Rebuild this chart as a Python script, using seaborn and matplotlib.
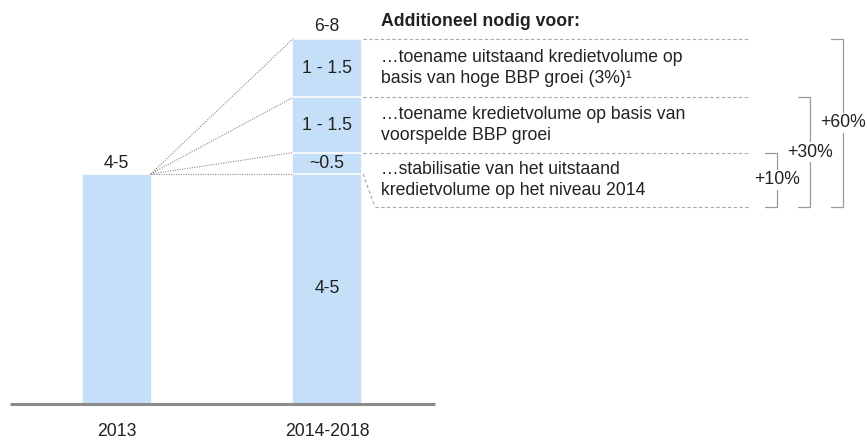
import numpy as np
import pandas as pd
import matplotlib
matplotlib.use("Agg")
import matplotlib.pyplot as plt
import seaborn as sns

# data
categories = ["2013", "2014-2018"]
base = [4.5, 4.5]          # 4-5
stabilisation = [0, 0.42]  # ~0.5
forecast_gdp = [0, 1.08]   # 1 - 1.5
high_gdp = [0, 1.15]       # 1 - 1.5
total_labels = ["4-5", "6-8"]
segment_labels = ["4-5", "~0.5", "1 - 1.5", "1 - 1.5"]
notes = ["\u2026toename uitstaand kredietvolume op\nbasis van hoge BBP groei (3%)\u00b9",
         "\u2026toename kredietvolume op basis van\nvoorspelde BBP groei",
         "\u2026stabilisatie van het uitstaand\nkredietvolume op het niveau 2014"]
heading = "Additioneel nodig voor:"
bracket_labels = ["+10%", "+30%", "+60%"]

sns.set_style("white")
plt.rcParams['font.family'] = ['Liberation Sans', 'DejaVu Sans']
txt = "#222222"
blue = "#c6dff8"
fs = 12.7

df = pd.DataFrame({"cat": categories, "base": base, "stab": stabilisation,
                   "fc": forecast_gdp, "high": high_gdp})
df["c1"] = df["base"]
df["c2"] = df["c1"] + df["stab"]
df["c3"] = df["c2"] + df["fc"]
df["c4"] = df["c3"] + df["high"]

fig = plt.figure(figsize=(8.67, 4.41), dpi=100)
ax = fig.add_axes([0, 37.3 / 441, 1, 403.7 / 441])

bw = 0.331
for col in ["c4", "c3", "c2", "c1"]:
    sns.barplot(data=df, x="cat", y=col, color=blue, edgecolor="white",
                linewidth=1.2, width=bw, errorbar=None, saturation=1, ax=ax)

ax.set_xlim(-0.555, 3.568)
ax.set_ylim(0, 7.909)
sns.despine(ax=ax, left=True, bottom=True)
ax.set_yticks([])
ax.set_xlabel("")
ax.set_ylabel("")
ax.tick_params(axis="x", length=0, pad=14, labelsize=fs, labelcolor=txt)

# baseline
ax.hlines(0, -0.507, 1.514, color="#8c8c8c", lw=2.2, clip_on=False)

half = 0.1617
levels = [df["c1"][1], df["c2"][1], df["c3"][1], df["c4"][1]]

# totals above bars
ax.text(0, df["c4"][0] + 0.215, total_labels[0], ha="center", va="center", fontsize=fs, color=txt)
ax.text(1, df["c4"][1] + 0.235, total_labels[1], ha="center", va="center", fontsize=fs, color=txt)

# segment labels
bottoms = [0] + levels[:-1]
for lo, hi, lab in zip(bottoms, levels, segment_labels):
    ax.text(1, (lo + hi) / 2, lab, ha="center", va="center", fontsize=fs, color=txt)

# dotted connectors from the 2013 bar
for lv in levels:
    ax.plot([half, 1 - half], [df["c1"][0], lv], color="#8a8a8a", lw=0.8,
            ls=(0, (1, 1.2)))

# dashed guide lines on the right
dash_end = 3.011
low_level = 3.85
dash_kw = dict(color="#a8a8a8", lw=0.8, ls=(0, (3, 2.2)))
for lv in levels[1:]:
    ax.plot([1 + half + 0.01, dash_end], [lv, lv], **dash_kw)
ax.plot([1.228, dash_end], [low_level, low_level], **dash_kw)
ax.plot([1 + half + 0.01, 1.228], [levels[0], low_level], **dash_kw)

# notes
note_x = 1.257
ax.text(note_x, 7.40, heading, ha="left", va="baseline", fontsize=fs,
        fontweight="bold", color=txt)
bands = [(levels[2], levels[3]), (levels[1], levels[2]), (low_level, levels[1])]
for (lo, hi), note in zip(bands, notes):
    ax.text(note_x, (lo + hi) / 2, note, ha="left", va="center", fontsize=fs,
            color=txt, linespacing=1.27)

# brackets
bx = [3.139, 3.296, 3.454]
tops = [levels[1], levels[2], levels[3]]
tick = 0.057
for x, top, lab in zip(bx, tops, bracket_labels):
    ax.plot([x - tick, x, x, x - tick], [low_level, low_level, top, top],
            color="#9a9a9a", lw=0.9)
    ax.text(x, (low_level + top) / 2, lab, ha="center", va="center", fontsize=fs,
            color=txt, bbox=dict(facecolor="white", edgecolor="none", pad=1.0))

fig.savefig("out.png", dpi=100)
